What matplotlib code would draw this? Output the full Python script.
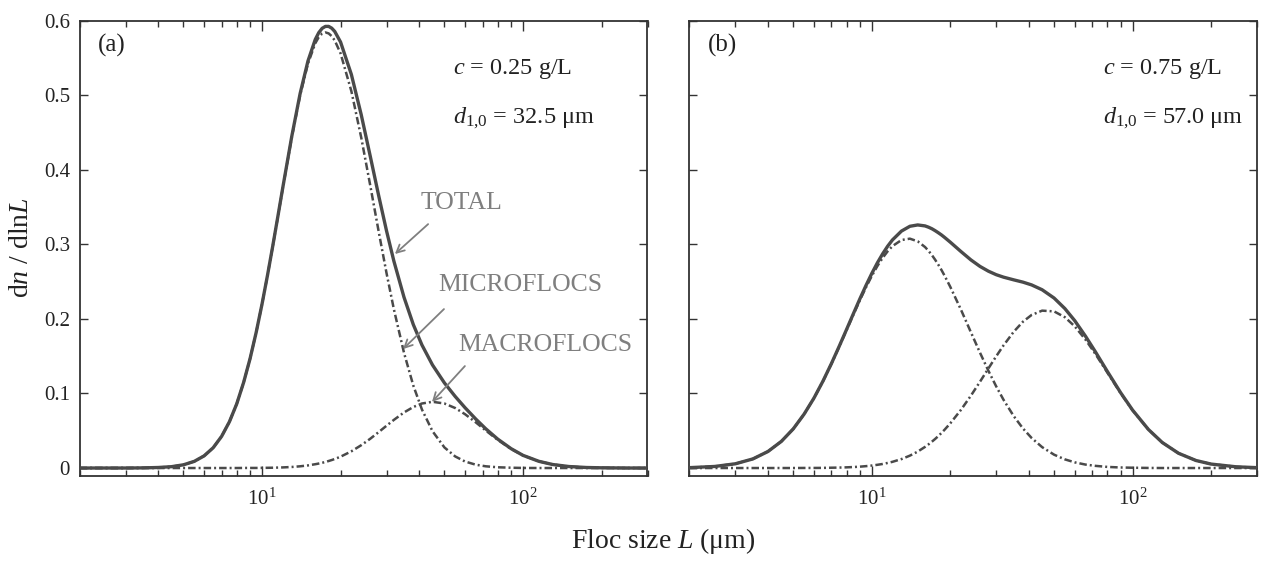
import matplotlib
matplotlib.use("Agg")
import matplotlib.pyplot as plt
from matplotlib.ticker import LogLocator, FixedLocator, NullFormatter, FixedFormatter

plt.rcParams['font.family'] = ['Liberation Serif', 'DejaVu Serif']
plt.rcParams['mathtext.fontset'] = 'custom'
plt.rcParams['mathtext.rm'] = 'Liberation Serif'
plt.rcParams['mathtext.it'] = 'Liberation Serif:italic'
plt.rcParams['mathtext.bf'] = 'Liberation Serif:bold'

# ---- data (floc size L in micrometres, dn/dlnL) ----
L = [2, 2.5, 3, 3.5, 4, 4.5, 5, 5.5, 6, 6.5, 7, 7.5, 8, 8.5, 9, 9.5, 10, 10.5, 11, 11.5,
     12, 13, 14, 15, 16, 16.5, 17, 17.5, 18, 18.5, 19, 20, 22, 24, 26, 28, 30, 32, 35, 38,
     41, 45, 50, 55, 60, 66, 72, 80, 90, 100, 115, 130, 150, 175, 200, 250, 300]

micro_a = [0.0, 0.0, 0.0, 0.0002, 0.0007, 0.0018, 0.0043, 0.0089, 0.0163, 0.0272,
           0.0424, 0.0620, 0.0860, 0.1145, 0.1466, 0.1819, 0.2195, 0.2584, 0.2977, 0.3366,
           0.3743, 0.4431, 0.4999, 0.5422, 0.5695, 0.5777, 0.5825, 0.5840, 0.5827, 0.5790,
           0.5732, 0.5559, 0.5052, 0.4430, 0.3784, 0.3168, 0.2613, 0.2131, 0.1545, 0.1105,
           0.0785, 0.0494, 0.0276, 0.0155, 0.0087, 0.0044, 0.0023, 0.0010, 0.0004, 0.0001,
           0.0, 0.0, 0.0, 0.0, 0.0, 0.0, 0.0]
macro_a = [0.0, 0.0, 0.0, 0.0, 0.0, 0.0, 0.0, 0.0, 0.0, 0.0,
           0.0, 0.0, 0.0, 0.0001, 0.0001, 0.0001, 0.0002, 0.0003, 0.0004, 0.0006,
           0.0008, 0.0014, 0.0023, 0.0035, 0.0051, 0.0060, 0.0070, 0.0081, 0.0094, 0.0107,
           0.0121, 0.0152, 0.0224, 0.0306, 0.0393, 0.0482, 0.0567, 0.0645, 0.0745, 0.0818,
           0.0865, 0.0888, 0.0865, 0.0804, 0.0721, 0.0611, 0.0503, 0.0378, 0.0256, 0.0169,
           0.0090, 0.0047, 0.0020, 0.0007, 0.0003, 0.0, 0.0]
total_a = [0.0, 0.0, 0.0, 0.0002, 0.0007, 0.0018, 0.0043, 0.0089, 0.0163, 0.0272,
           0.0424, 0.0620, 0.0860, 0.1146, 0.1467, 0.1820, 0.2197, 0.2587, 0.2981, 0.3372,
           0.3751, 0.4445, 0.5022, 0.5457, 0.5746, 0.5837, 0.5895, 0.5921, 0.5921, 0.5897,
           0.5853, 0.5711, 0.5276, 0.4736, 0.4177, 0.3650, 0.3180, 0.2776, 0.2290, 0.1923,
           0.1650, 0.1382, 0.1141, 0.0959, 0.0808, 0.0655, 0.0526, 0.0388, 0.0260, 0.0170,
           0.0090, 0.0047, 0.0020, 0.0007, 0.0003, 0.0, 0.0]

micro_b = [0.0005, 0.0021, 0.0057, 0.0122, 0.0222, 0.0357, 0.0525, 0.0721, 0.0936, 0.1164,
           0.1396, 0.1626, 0.1847, 0.2056, 0.2249, 0.2422, 0.2575, 0.2706, 0.2816, 0.2905,
           0.2975, 0.3057, 0.3075, 0.3039, 0.2963, 0.2912, 0.2855, 0.2792, 0.2725, 0.2655,
           0.2581, 0.2429, 0.2119, 0.1819, 0.1546, 0.1304, 0.1094, 0.0915, 0.0697, 0.0530,
           0.0403, 0.0280, 0.0179, 0.0116, 0.0076, 0.0046, 0.0029, 0.0015, 0.0007, 0.0004,
           0.0001, 0.0, 0.0, 0.0, 0.0, 0.0, 0.0]
macro_b = [0.0, 0.0, 0.0, 0.0, 0.0, 0.0, 0.0, 0.0001, 0.0001, 0.0002,
           0.0004, 0.0006, 0.0009, 0.0013, 0.0018, 0.0025, 0.0033, 0.0043, 0.0054, 0.0068,
           0.0083, 0.0120, 0.0166, 0.0220, 0.0283, 0.0317, 0.0353, 0.0390, 0.0429, 0.0470,
           0.0512, 0.0599, 0.0782, 0.0971, 0.1157, 0.1335, 0.1498, 0.1644, 0.1826, 0.1962,
           0.2052, 0.2110, 0.2100, 0.2022, 0.1900, 0.1721, 0.1530, 0.1281, 0.1003, 0.0773,
           0.0516, 0.0342, 0.0198, 0.0101, 0.0053, 0.0016, 0.0005]
total_b = [0.0005, 0.0021, 0.0057, 0.0122, 0.0222, 0.0357, 0.0525, 0.0722, 0.0937, 0.1166,
           0.1400, 0.1632, 0.1856, 0.2069, 0.2267, 0.2447, 0.2608, 0.2749, 0.2870, 0.2973,
           0.3058, 0.3177, 0.3241, 0.3259, 0.3246, 0.3229, 0.3208, 0.3182, 0.3154, 0.3125,
           0.3093, 0.3028, 0.2901, 0.2790, 0.2703, 0.2639, 0.2592, 0.2559, 0.2523, 0.2492,
           0.2455, 0.2390, 0.2279, 0.2138, 0.1976, 0.1767, 0.1559, 0.1296, 0.1010, 0.0777,
           0.0517, 0.0342, 0.0198, 0.0101, 0.0053, 0.0016, 0.0005]

y_ticks = [0, 0.1, 0.2, 0.3, 0.4, 0.5, 0.6]
y_ticklabels = ["0", "0.1", "0.2", "0.3", "0.4", "0.5", "0.6"]
panel_labels = ["(a)", "(b)"]
conc_labels = [r"$c$ = 0.25 g/L", r"$c$ = 0.75 g/L"]
d10_labels = [r"$d_{1{,}0}$ = 32.5 μm", r"$d_{1{,}0}$ = 57.0 μm"]

# ---- styling ----
LINE = "#4a4a4a"
GRAY = "#7f7f7f"
SPINE = "#333333"
DASH = (0, (3.0, 1.2, 0.8, 1.2))

W, H = 1268, 561
fig = plt.figure(figsize=(W / 100, H / 100), dpi=100)

ax_pos = [
    [79.6 / W, (H - 476) / H, (647.5 - 79.6) / W, 455.5 / H],
    [689.5 / W, (H - 476) / H, (1257 - 689.5) / W, 455.5 / H],
]

datasets = [(micro_a, macro_a, total_a), (micro_b, macro_b, total_b)]
text_x = [0.657, 0.728]

for i, pos in enumerate(ax_pos):
    ax = fig.add_axes(pos)
    micro, macro, total = datasets[i]
    n = min(len(L), len(micro), len(macro), len(total))
    ax.plot(L[:n], micro[:n], color=LINE, lw=1.8, linestyle=DASH, zorder=2)
    ax.plot(L[:n], macro[:n], color=LINE, lw=1.8, linestyle=DASH, zorder=2)
    ax.plot(L[:n], total[:n], color=LINE, lw=2.4, solid_joinstyle='round', zorder=3)

    ax.set_xscale('log')
    ax.set_xlim(2, 300)
    ax.set_ylim(-0.0107, 0.6)

    ax.xaxis.set_major_locator(FixedLocator([10, 100]))
    ax.xaxis.set_major_formatter(FixedFormatter([r"$10^{1}$", r"$10^{2}$"]))
    ax.xaxis.set_minor_locator(LogLocator(base=10, subs=range(2, 10), numticks=20))
    ax.xaxis.set_minor_formatter(NullFormatter())
    ax.set_yticks(y_ticks)
    if i == 0:
        ax.set_yticklabels(y_ticklabels)
    else:
        ax.set_yticklabels([])

    ax.tick_params(axis='both', which='both', direction='in', top=True, right=True,
                   color=SPINE, width=1.0, labelsize=15, labelcolor="#222222")
    ax.tick_params(axis='x', which='major', length=7, pad=9)
    ax.tick_params(axis='x', which='minor', length=4)
    ax.tick_params(axis='y', which='major', length=6, pad=7)
    for sp in ax.spines.values():
        sp.set_color(SPINE)
        sp.set_linewidth(1.3)

    ax.text(0.032, 0.945, panel_labels[i], transform=ax.transAxes, fontsize=18,
            ha='left', va='center', color="#222222")
    ax.text(text_x[i], 0.893, conc_labels[i], transform=ax.transAxes, fontsize=17.5,
            ha='left', va='center', color="#222222")
    ax.text(text_x[i], 0.784, d10_labels[i], transform=ax.transAxes, fontsize=17.5,
            ha='left', va='center', color="#222222", clip_on=False)

    if i == 0:
        arrow = dict(arrowstyle='->', color=GRAY, lw=1.3, shrinkA=0, shrinkB=0,
                     mutation_scale=14)
        ax.text(57.9, 0.3552, "TOTAL", fontsize=18.5, color=GRAY, ha='center', va='center')
        ax.annotate("", xy=(32.3, 0.2869), xytext=(43.3, 0.327), arrowprops=arrow)
        ax.text(97.4, 0.2453, "MICROFLOCS", fontsize=18.5, color=GRAY, ha='center', va='center')
        ax.annotate("", xy=(34.7, 0.1595), xytext=(49.8, 0.2131), arrowprops=arrow)
        ax.text(121.4, 0.1649, "MACROFLOCS", fontsize=18.5, color=GRAY, ha='center', va='center')
        ax.annotate("", xy=(44.8, 0.0885), xytext=(59.9, 0.1367), arrowprops=arrow)

fig.text(22 / W, (H - 248) / H, r"d$n$ / dln$L$", rotation=90, fontsize=20,
         ha='center', va='center', color="#222222")
fig.text(663 / W, (H - 541) / H, r"Floc size $L$ (μm)", fontsize=20,
         ha='center', va='center', color="#222222")

fig.savefig("out.png", dpi=100)
